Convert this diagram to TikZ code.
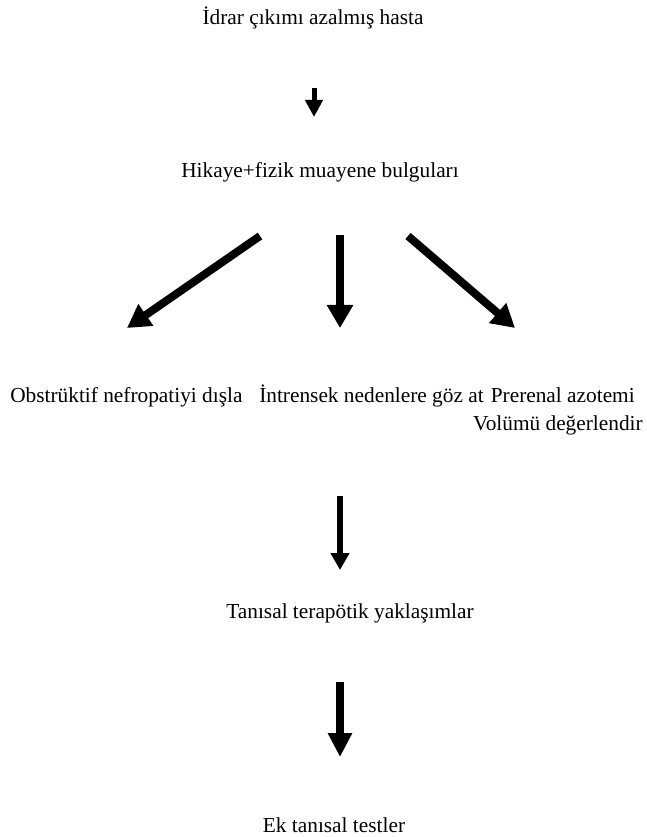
\documentclass[tikz,border=0pt]{standalone}
\usepackage{fontspec}
\setmainfont{Liberation Serif}
\usetikzlibrary{arrows.meta}

\tikzset{
  lbl/.style={inner sep=0pt, font=\fontsize{16}{19}\selectfont},
  smallarr/.style={line width=3.75pt, -{Triangle[length=12.75pt,width=12.75pt]}},
  midarr/.style={line width=4.9pt, -{Triangle[length=12.75pt,width=13.5pt]}},
  bigarr/.style={line width=6pt, -{Triangle[length=17.25pt,width=18.75pt]}},
  lastarr/.style={line width=6pt, -{Triangle[length=18pt,width=17.25pt]}}
}

\begin{document}
\begin{tikzpicture}[x=0.75pt,y=-0.75pt]
\useasboundingbox (0,0) rectangle (646,837);
% texts
\node[lbl, anchor=base] (idrar) at (313,25) {İdrar çıkımı azalmış hasta};
\node[lbl, anchor=base] (hikaye) at (320,178) {Hikaye+fizik muayene bulguları};
\node[lbl, anchor=base west] (obstr) at (10,402) {Obstrüktif nefropatiyi dışla};
\node[lbl, anchor=base west] (intr) at (259,402) {İntrensek nedenlere göz at};
\node[lbl, anchor=base east] (prer) at (635,402) {Prerenal azotemi};
\node[lbl, anchor=base east] (volum) at (643,430) {Volümü değerlendir};
\node[lbl, anchor=base] (tanisal) at (350,618) {Tanısal terapötik yaklaşımlar};
\node[lbl, anchor=base] (ektest) at (334,832) {Ek tanısal testler};
% arrow ends
\coordinate (a1s) at (314,88);   \coordinate (a1e) at (314,117);
\coordinate (bls) at (260,236);  \coordinate (ble) at (127,328);
\coordinate (bms) at (340,235);  \coordinate (bme) at (340,328);
\coordinate (brs) at (408,236);  \coordinate (bre) at (515,328);
\coordinate (a4s) at (340,496);  \coordinate (a4e) at (340,570);
\coordinate (a5s) at (340,682);  \coordinate (a5e) at (340,757);
% arrows
\draw[smallarr] (a1s) -- (a1e);
\draw[bigarr] (bls) -- (ble);
\draw[bigarr] (bms) -- (bme);
\draw[bigarr] (brs) -- (bre);
\draw[midarr] (a4s) -- (a4e);
\draw[lastarr] (a5s) -- (a5e);
\end{tikzpicture}
\end{document}
